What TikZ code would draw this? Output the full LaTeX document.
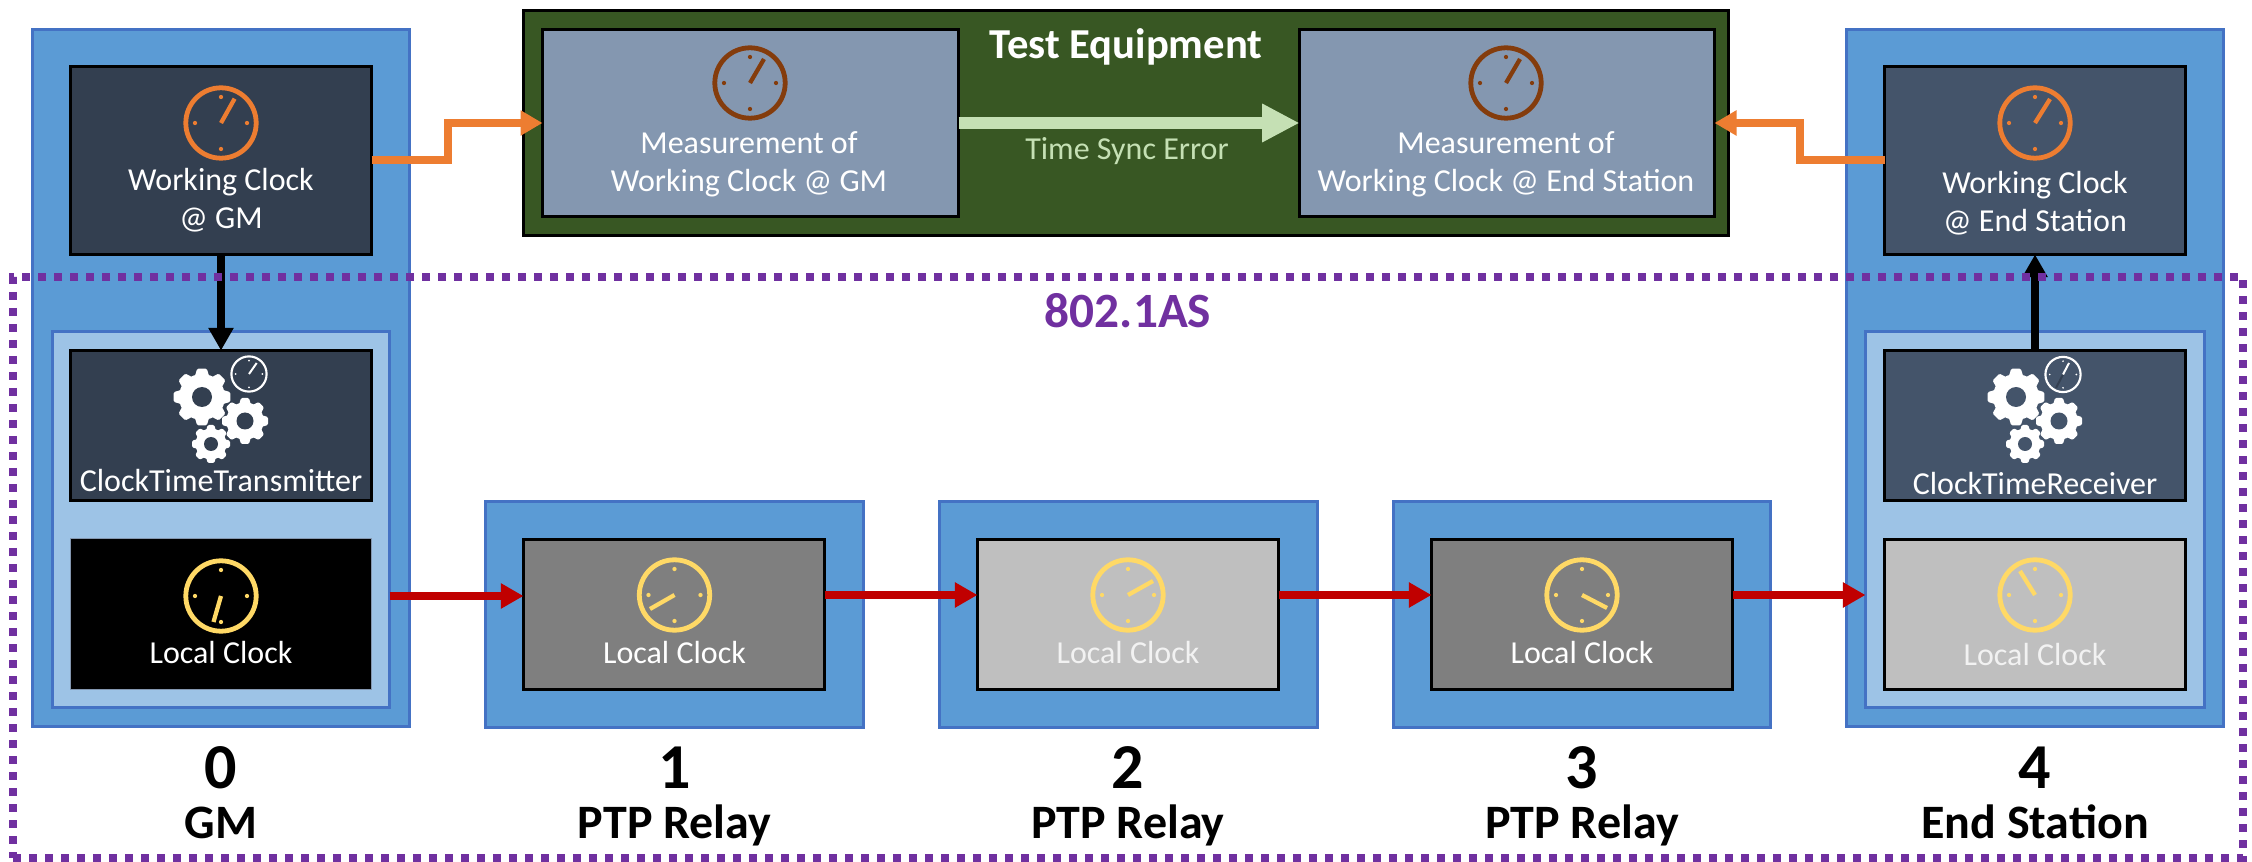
\documentclass[tikz,border=0pt]{standalone}
\usepackage{fontspec}
\setmainfont{Carlito}
\usetikzlibrary{arrows.meta}
\definecolor{blueout}{HTML}{5B9BD5}
\definecolor{blueedge}{HTML}{4472C4}
\definecolor{bluein}{HTML}{9DC3E6}
\definecolor{slatea}{HTML}{333F50}
\definecolor{slateb}{HTML}{44546A}
\definecolor{meas}{HTML}{8497B0}
\definecolor{testgreen}{HTML}{385723}
\definecolor{palegreen}{HTML}{C5E0B4}
\definecolor{orangec}{HTML}{ED7D31}
\definecolor{redc}{HTML}{C00000}
\definecolor{yellowc}{HTML}{FFD966}
\definecolor{brownc}{HTML}{843C0C}
\definecolor{purplec}{HTML}{7030A0}
\definecolor{midgray}{HTML}{7F7F7F}
\definecolor{lightgray}{HTML}{BFBFBF}
\tikzset{
  boxbase/.style={rectangle,inner sep=0pt,outer sep=0pt},
  outerbox/.style={boxbase,fill=blueout,draw=blueedge,line width=2.2pt},
  innerbox/.style={boxbase,fill=bluein,draw=blueedge,line width=1.8pt},
  blackbox/.style={boxbase,draw=black,line width=2.2pt},
  testbox/.style={blackbox,fill=testgreen},
  lbl/.style={anchor=base,inner sep=0pt,outer sep=0pt,text=white,font=\fontsize{24}{28.5}\selectfont,align=center},
  boldlbl/.style={anchor=base,inner sep=0pt,outer sep=0pt,font=\bfseries\fontsize{36}{42}\selectfont},
  numlbl/.style={anchor=base,inner sep=0pt,outer sep=0pt,font=\bfseries\fontsize{48}{58}\selectfont},
  orangearrow/.style={draw=orangec,line width=6pt,-{Triangle[length=16.5pt,width=18pt]}},
  redarrow/.style={draw=redc,line width=6pt,-{Triangle[length=17pt,width=18pt]}},
  blackarrow/.style={draw=black,line width=6pt,-{Triangle[length=17pt,width=18pt]}},
  greenarrow/.style={draw=palegreen,line width=9pt,-{Triangle[length=28pt,width=27pt]}},
  dottedframe/.style={boxbase,draw=purplec,line width=6pt,dash pattern=on 6pt off 6pt},
}
% name, x1, y1, x2, y2, style (outer edges in px)
\newcommand{\bx}[6]{\node[#6,minimum width={(#4-#2-3)*0.75pt},minimum height={(#5-#3-3)*0.75pt}] (#1) at ({(#2+#4)/2},{(#3+#5)/2}) {};}
% name, cx, cy, colour, hand end x, hand end y
\newcommand{\clockface}[6]{%
  \coordinate (#1) at (#2,#3);
  \draw[#4,line width=3.6pt] (#1) circle[radius=26.4pt];
  \foreach \a in {0,90,180,270} {\fill[#4] (#1) ++(\a:19.5pt) circle[radius=1.6pt];}
  \draw[#4,line width=3.2pt] (#1) -- (#5,#6);
}
% cx, cy, R(px), hole(px), hole colour
\newcommand{\gearicon}[5]{%
  \begin{scope}[shift={(#1,#2)}]
    \fill[white] (0,0) circle[radius={#3*0.61pt}];
    \foreach \a in {0,45,...,315} {
      \fill[white,rotate=\a,rounded corners=0.9pt]
        ({-0.27*#3},{0.68*#3}) -- ({-0.17*#3},{#3}) -- ({0.17*#3},{#3}) -- ({0.27*#3},{0.68*#3}) -- cycle;
    }
    \fill[#5] (0,0) circle[radius={#4*0.75pt}];
  \end{scope}
}
% cx (box centre), hole colour
\newcommand{\gearset}[2]{%
  \gearicon{#1-19}{397}{28.3}{10}{#2}
  \gearicon{#1+24}{421}{23}{8.5}{#2}
  \gearicon{#1-10}{444}{19}{7}{#2}
}
\begin{document}
\begin{tikzpicture}[x=0.75pt,y=-0.75pt]
\useasboundingbox (0,0) rectangle (2252,862);
% device boxes
\bx{dev0}{31}{28}{411}{728}{outerbox}
\bx{dev1}{484}{500}{865}{729}{outerbox}
\bx{dev2}{938}{500}{1319}{729}{outerbox}
\bx{dev3}{1392}{500}{1772}{729}{outerbox}
\bx{dev4}{1845}{28}{2225}{728}{outerbox}
\bx{in0}{51}{330}{391}{709}{innerbox}
\bx{in4}{1864}{330}{2206}{709}{innerbox}
% test equipment
\bx{test}{522}{9}{1730}{237}{testbox}
\bx{meas1}{541}{28}{960}{218}{blackbox,fill=meas}
\bx{meas2}{1298}{28}{1716}{218}{blackbox,fill=meas}
% inner boxes
\bx{wc0}{69}{65}{373}{256}{blackbox,fill=slatea}
\bx{wc4}{1883}{65}{2187}{256}{blackbox,fill=slateb}
\bx{tx}{69}{349}{373}{502}{blackbox,fill=slatea}
\bx{rx}{1883}{349}{2187}{502}{blackbox,fill=slateb}
\bx{loc0}{69}{537}{373}{691}{boxbase,fill=black,draw=meas,line width=0.8pt}
\bx{loc1}{522}{538}{826}{691}{blackbox,fill=midgray}
\bx{loc2}{976}{538}{1280}{691}{blackbox,fill=lightgray}
\bx{loc3}{1430}{538}{1734}{691}{blackbox,fill=midgray}
\bx{loc4}{1883}{538}{2187}{691}{blackbox,fill=lightgray}
% clocks
\clockface{cw0}{221}{123}{orangec}{234.6}{98.7}
\clockface{cw4}{2035}{123}{orangec}{2050}{99}
\clockface{cm1}{750}{83}{brownc}{764}{59}
\clockface{cm2}{1506}{83}{brownc}{1520}{59}
\clockface{cl0}{221}{596}{yellowc}{213.5}{622}
\clockface{cl1}{674.5}{595}{yellowc}{650}{609}
\clockface{cl2}{1128}{595}{yellowc}{1153}{581}
\clockface{cl3}{1582}{595}{yellowc}{1607}{608}
\clockface{cl4}{2035}{595}{yellowc}{2020}{571}
% gears with their small clocks
\gearset{221}{slatea}
\gearset{2035}{slateb}
\coordinate (st0) at (249,374);
\draw[white,line width=1.6pt] (st0) circle[radius=13.2pt];
\foreach \a in {0,90,180,270} {\fill[white] (st0) ++(\a:10pt) circle[radius=0.7pt];}
\draw[white,line width=1.5pt] (st0) -- (256.7,363);
\coordinate (st4) at (2063,374.5);
\draw[white,line width=1.6pt] (st4) circle[radius=13.2pt];
\foreach \a in {0,90,180,270} {\fill[white] (st4) ++(\a:10pt) circle[radius=0.7pt];}
\draw[slatea,line width=1.5pt] (st4) -- (2056,388);
\draw[white,line width=1.5pt] (st4) -- (2069,363);
% connectors
\draw[orangearrow] (wc0.east) -- ++(76,0) |- (meas1.west);
\draw[orangearrow] (wc4.west) -- ++(-85,0) |- (meas2.east);
\draw[greenarrow] (meas1.east) -- (meas2.west);
\draw[blackarrow] (wc0.south) -- (tx.north);
\draw[blackarrow] (rx.north) -- (wc4.south);
\draw[redarrow] (in0.east |- cl0) -- (loc1.west |- cl0);
\draw[redarrow] (loc1.east |- cl1) -- (loc2.west |- cl1);
\draw[redarrow] (loc2.east |- cl2) -- (loc3.west |- cl2);
\draw[redarrow] (loc3.east |- cl3) -- (in4.west |- cl3);
% box texts
\node[lbl] (twc0) at (221,229) {Working Clock\\@ GM};
\node[lbl] (twc4) at (2035,232) {Working Clock\\@ End Station};
\node[lbl] (ttx) at (221,492) {ClockTimeTransmitter};
\node[lbl] (trx) at (2035,495) {ClockTimeReceiver};
\node[lbl] (tl0) at (221,663) {Local Clock};
\node[lbl] (tl1) at (674.5,663) {Local Clock};
\node[lbl,text=white!95!black] (tl2) at (1128,663) {Local Clock};
\node[lbl] (tl3) at (1582,663) {Local Clock};
\node[lbl,text=white!95!black] (tl4) at (2035,665.5) {Local Clock};
\node[lbl] (tm1) at (749,192) {Measurement of\\Working Clock @ GM};
\node[lbl] (tm2) at (1506,192) {Measurement of\\Working Clock @ End Station};
\node[lbl,text=palegreen] (terr) at (1127,160) {Time Sync Error};
\node[anchor=base,inner sep=0pt,text=white,font=\bfseries\fontsize{32}{38}\selectfont] (ttest) at (1126,59) {Test Equipment};
% frame
\node[dottedframe,minimum width={2230*0.75pt},minimum height={581*0.75pt}] (frame) at (1128,567.5) {};
\node[anchor=base,inner sep=0pt,text=purplec,font=\bfseries\fontsize{37}{44}\selectfont] (tas) at (1128,328) {802.1AS};
% bottom captions
\node[numlbl] (n0) at (221,788) {0};
\node[numlbl] (n1) at (674.5,788) {1};
\node[numlbl] (n2) at (1128,788) {2};
\node[numlbl] (n3) at (1582,788) {3};
\node[numlbl] (n4) at (2035,788) {4};
\node[boldlbl] (c0) at (221,838) {GM};
\node[boldlbl] (c1) at (674.5,838) {PTP Relay};
\node[boldlbl] (c2) at (1128,838) {PTP Relay};
\node[boldlbl] (c3) at (1582,838) {PTP Relay};
\node[boldlbl] (c4) at (2035,838) {End Station};
\end{tikzpicture}
\end{document}
